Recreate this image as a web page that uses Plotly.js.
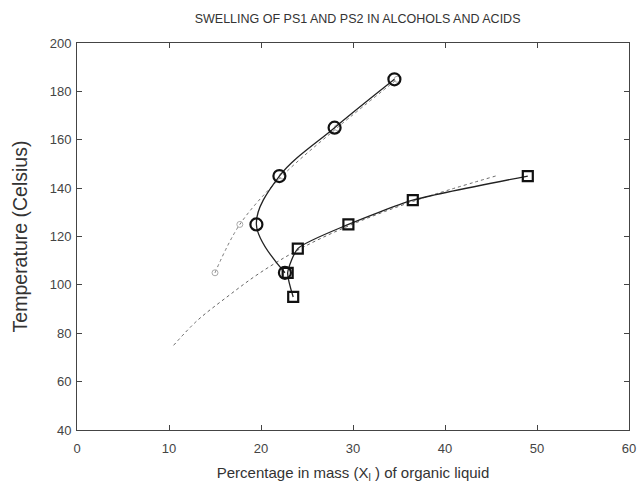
<!DOCTYPE html>
<html>
<head>
<meta charset="utf-8">
<script src="https://cdn.plot.ly/plotly-3.0.1.min.js"></script>
<style>html,body{margin:0;padding:0;background:#fff;}#chart{width:642px;height:483px;}</style>
</head>
<body>
<div id="chart"></div>
<script>
// PS1 (circles) measured points
const circleX = [22.6, 19.5, 22.0, 28.0, 34.5];
const circleT = [105, 125, 145, 165, 185];
// PS2 (squares) measured points
const squareX = [23.5, 22.9, 24.0, 29.5, 36.5, 49.0];
const squareT = [95, 105, 115, 125, 135, 145];
// fitted curves (dotted, gray)
const fitCircleX = [15.0, 17.7, 22.3, 28.3, 34.8];
const fitCircleT = [105, 125, 145, 165, 185];
const fitSquareX = [10.5, 13.0, 16.3, 19.9, 24.3, 29.9, 36.9, 45.5];
const fitSquareT = [75, 85, 95, 105, 115, 125, 135, 145];

const xTicks = [0, 10, 20, 30, 40, 50, 60];
const yTicks = [40, 60, 80, 100, 120, 140, 160, 180, 200];

const FONT = 'Liberation Sans, Arial, sans-serif';

const traces = [
  {x: fitSquareX, y: fitSquareT, mode: 'lines', line: {color: '#666', width: 1, dash: 'dot', shape: 'spline', smoothing: 1}, hoverinfo: 'skip'},
  {x: fitCircleX, y: fitCircleT, mode: 'lines+markers', line: {color: '#777', width: 1, dash: 'dot', shape: 'spline', smoothing: 1},
   marker: {symbol: 'circle-open', size: 6, color: '#aaa', line: {width: 1}}, hoverinfo: 'skip'},
  {x: circleX, y: circleT, mode: 'lines+markers', line: {color: '#222', width: 1.3, shape: 'spline', smoothing: 1},
   marker: {symbol: 'circle-open', size: 12, color: '#111', line: {width: 2.2}}},
  {x: squareX, y: squareT, mode: 'lines+markers', line: {color: '#222', width: 1.3, shape: 'spline', smoothing: 0.6},
   marker: {symbol: 'square-open', size: 10, color: '#111', line: {width: 2.2}}}
];

const axisCommon = {
  showgrid: false, zeroline: false, showline: true, linecolor: '#444', linewidth: 1,
  mirror: 'ticks', ticks: 'inside', ticklen: 5, tickcolor: '#444',
  tickfont: {family: FONT, size: 13, color: '#444'}
};

const layout = {
  width: 642, height: 483,
  margin: {l: 77, r: 13, t: 43, b: 53},
  paper_bgcolor: '#fff', plot_bgcolor: '#fff',
  showlegend: false,
  title: {text: 'SWELLING OF PS1 AND PS2 IN ALCOHOLS AND ACIDS', x: 0.557, xanchor: 'center', y: 0.962, yanchor: 'middle',
          font: {family: FONT, size: 12.5, color: '#333'}},
  xaxis: Object.assign({}, axisCommon, {
    range: [0, 60], tickvals: xTicks, ticktext: xTicks.map(String), ticklabelstandoff: 6,
    title: {text: 'Percentage in mass (X<sub>l</sub> ) of organic liquid', standoff: 14,
            font: {family: FONT, size: 15, color: '#333'}},
    automargin: false
  }),
  yaxis: Object.assign({}, axisCommon, {
    range: [40, 200], tickvals: yTicks, ticktext: yTicks.map(String), ticklabelstandoff: 2,
    title: {text: 'Temperature (Celsius)', standoff: 16,
            font: {family: FONT, size: 19.5, color: '#333'}},
    automargin: false
  })
};

Plotly.newPlot('chart', traces, layout, {displayModeBar: false, staticPlot: true});
</script>
</body>
</html>
